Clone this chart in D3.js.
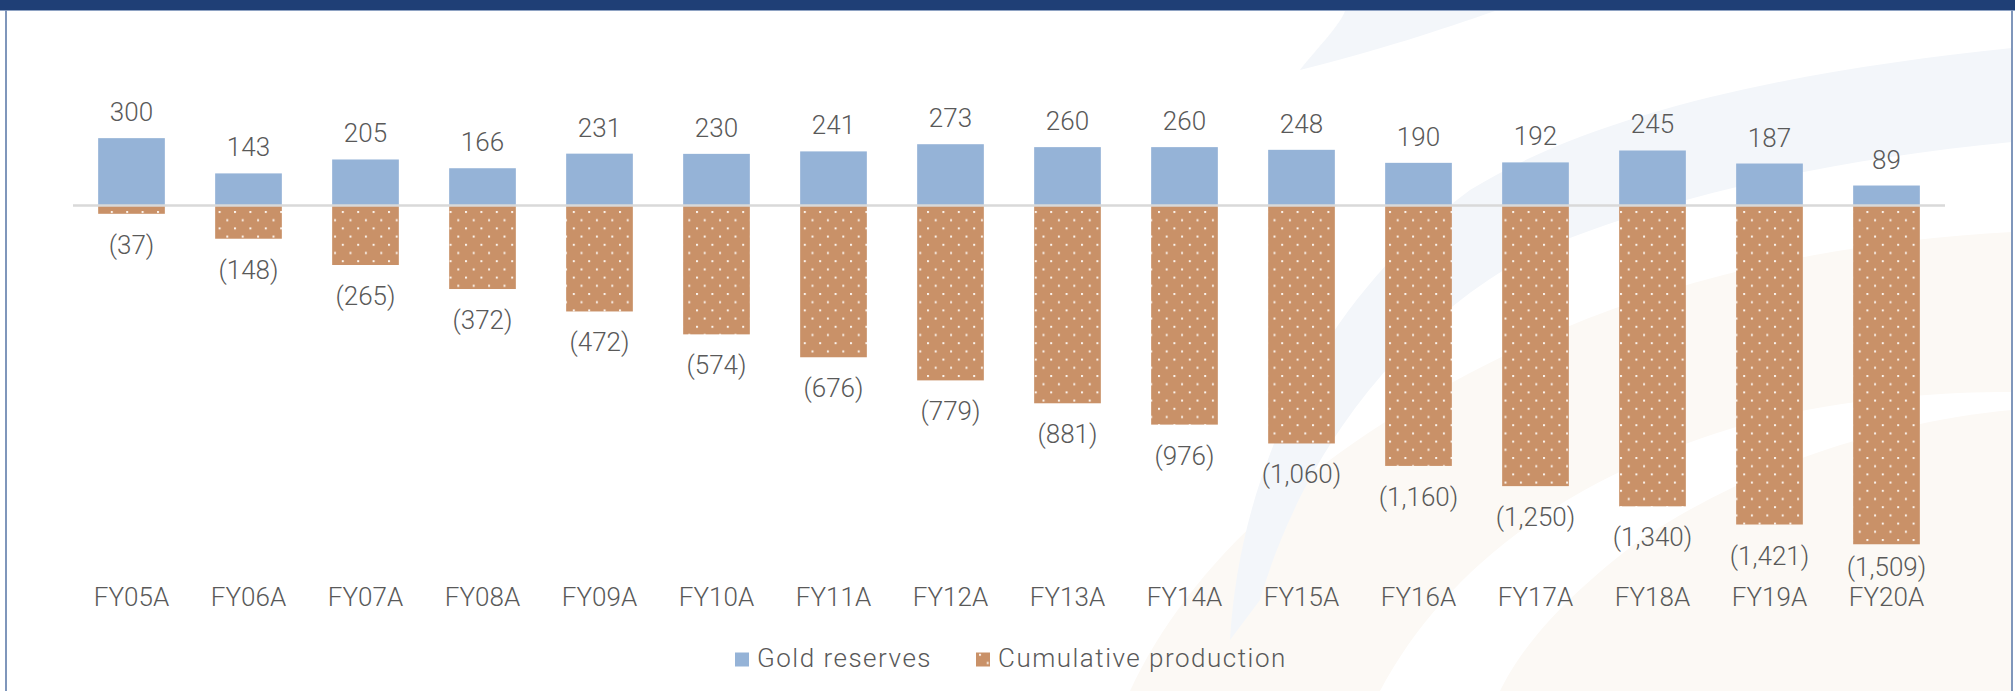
<!DOCTYPE html>
<html>
<head>
<meta charset="utf-8">
<script src="https://cdn.jsdelivr.net/npm/d3@7"></script>
<style>
  html, body { margin: 0; padding: 0; background: #ffffff; }
  svg { display: block; }
  text { font-family: "Roboto", "Liberation Sans", sans-serif; font-weight: 300; fill: #595959; }
</style>
</head>
<body>
<div class="chart"></div>
<script>
var years = ["FY05A", "FY06A", "FY07A", "FY08A", "FY09A", "FY10A", "FY11A", "FY12A",
             "FY13A", "FY14A", "FY15A", "FY16A", "FY17A", "FY18A", "FY19A", "FY20A"];
var reserves = [300, 143, 205, 166, 231, 230, 241, 273, 260, 260, 248, 190, 192, 245, 187, 89];
var production = [-37, -148, -265, -372, -472, -574, -676, -779, -881, -976, -1060, -1160, -1250, -1340, -1421, -1509];
var seriesNames = ["Gold reserves", "Cumulative production"];

var W = 2015, H = 691;
var blue = "#95b3d7", orange = "#c99168";

var fmt = function(v) {
    var s = d3.format(",")(Math.abs(v));
    return v < 0 ? "(" + s + ")" : s;
};

var svg = d3.select(".chart").append("svg")
    .attr("width", W)
    .attr("height", H);

// faint watermark behind the chart
var bg = svg.append("g").attr("class", "watermark");
bg.append("path")
    .attr("fill", "#fcf9f5")
    .attr("d", "M1130,691 C1190,560 1330,430 1560,330 C1700,270 1860,240 2012,232 L2012,691 Z");
bg.append("path")
    .attr("fill", "#ffffff")
    .attr("d", "M1380,691 C1450,560 1580,470 1760,420 C1850,398 1940,392 2012,392 L2012,410 C1900,420 1760,460 1640,540 C1560,600 1520,650 1500,691 Z");
bg.append("path")
    .attr("fill", "#f3f6fa")
    .attr("d", "M1230,640 C1240,470 1320,300 1470,190 C1600,110 1800,70 2012,48 L2012,142 C1820,160 1660,200 1540,250 C1400,320 1300,460 1260,600 Z");
bg.append("path")
    .attr("fill", "#f3f6fa")
    .attr("d", "M1300,70 C1320,45 1340,25 1345,11 L1495,11 C1440,30 1380,50 1300,70 Z");

// frame
svg.append("rect").attr("x", 0).attr("y", 0).attr("width", W).attr("height", 10).attr("fill", "#1f3f76");
svg.append("rect").attr("x", 0).attr("y", 10).attr("width", W).attr("height", 1).attr("fill", "#8ea2c3");
svg.append("rect").attr("x", 5).attr("y", 10).attr("width", 2).attr("height", H - 10).attr("fill", "#7f96bb");
svg.append("rect").attr("x", 2011).attr("y", 10).attr("width", 2).attr("height", H - 10).attr("fill", "#7f96bb");

// dotted fill for production bars
var defs = svg.append("defs");
var pat = defs.append("pattern")
    .attr("id", "dots")
    .attr("patternUnits", "userSpaceOnUse")
    .attr("x", 3).attr("y", 211)
    .attr("width", 15.4)
    .attr("height", 16.4);
pat.append("rect").attr("width", 15.4).attr("height", 16.4).attr("fill", orange);
pat.append("rect").attr("x", 0).attr("y", 0).attr("width", 2).attr("height", 2).attr("fill", "#fbf3ec");
pat.append("rect").attr("x", 7.7).attr("y", 8.2).attr("width", 2).attr("height", 2).attr("fill", "#fbf3ec");

var x = d3.scaleBand()
    .domain(years)
    .range([73, 1945])
    .paddingInner(0.43)
    .paddingOuter(0.215);

var y = d3.scaleLinear()
    .domain([-1600, 400])
    .range([564.7, 115.7]);

var bars = svg.append("g").attr("class", "bars");

bars.selectAll("rect.res").data(reserves).enter().append("rect")
    .attr("class", "res")
    .attr("x", function(d, i) { return x(years[i]); })
    .attr("y", function(d) { return y(d); })
    .attr("width", x.bandwidth())
    .attr("height", function(d) { return y(0) - y(d); })
    .attr("fill", blue);

bars.selectAll("rect.prod").data(production).enter().append("rect")
    .attr("class", "prod")
    .attr("x", function(d, i) { return x(years[i]); })
    .attr("y", y(0))
    .attr("width", x.bandwidth())
    .attr("height", function(d) { return y(d) - y(0); })
    .attr("fill", "url(#dots)");

// zero line
svg.append("line")
    .attr("x1", 73).attr("x2", 1945)
    .attr("y1", y(0)).attr("y2", y(0))
    .attr("stroke", "#d9d9d9")
    .attr("stroke-width", 2.5);

var axisY = 608;

var labels = svg.append("g").attr("class", "labels").attr("text-anchor", "middle").style("font-size", "26px");

labels.selectAll("text.res").data(reserves).enter().append("text")
    .attr("class", "res")
    .attr("x", function(d, i) { return x(years[i]) + x.bandwidth() / 2; })
    .attr("y", function(d) { return y(d) - 17; })
    .text(fmt);

labels.selectAll("text.prod").data(production).enter().append("text")
    .attr("class", "prod")
    .attr("x", function(d, i) { return x(years[i]) + x.bandwidth() / 2; })
    .attr("y", function(d) { return Math.min(y(d) + 40, axisY - 32); })
    .text(fmt);

// category axis
var xAxis = svg.append("g")
    .attr("transform", "translate(0," + (axisY - 20) + ")")
    .call(d3.axisBottom(x).tickSize(0).tickPadding(0));
xAxis.select(".domain").remove();
xAxis.selectAll("text")
    .attr("dy", "0.71em")
    .attr("y", 0)
    .style("font-size", "26px")
    .attr("fill", null);
xAxis.attr("font-family", null).attr("font-size", null);

// legend
var legend = svg.append("g").attr("class", "legend")
    .style("font-size", "26px")
    .style("letter-spacing", "1.5px");
var legendX = [735, 976];
var items = legend.selectAll("g").data(seriesNames).enter().append("g")
    .attr("transform", function(d, i) { return "translate(" + legendX[i] + ",0)"; });
items.append("rect")
    .attr("x", 0).attr("y", 652.5)
    .attr("width", 14).attr("height", 14)
    .attr("fill", function(d, i) { return i == 0 ? blue : "url(#dots)"; });
items.append("text")
    .attr("x", 22).attr("y", 666.5)
    .text(function(d) { return d; });
</script>
</body>
</html>
